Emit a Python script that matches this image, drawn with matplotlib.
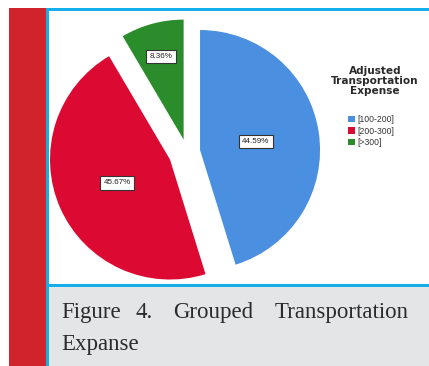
import matplotlib
matplotlib.use("Agg")
import matplotlib.pyplot as plt
from matplotlib.patches import Rectangle
import numpy as np

# Data
categories = ["[100-200]", "[200-300]", "[>300]"]
shares = [44.59, 45.67, 8.36]
colors = ["#4a8fe0", "#dc0a32", "#2a8c2a"]
explode = [0.11, 0.155, 0.107]
label_dist = [0.47, 0.48, 0.72]
legend_title = "Adjusted\nTransportation\nExpense"
caption_line1 = ["Figure", "4.", "Grouped", "Transportation"]
caption_line2 = "Expanse"

W, H = 429, 366
fig = plt.figure(figsize=(W / 100, H / 100), dpi=100)
fig.patch.set_facecolor("white")


def fx(px):
    return px / W


def fy(py):
    return 1 - py / H


def rect(x0, y0, x1, y1, color, z=0):
    fig.patches.append(Rectangle((fx(x0), fy(y1)), fx(x1) - fx(x0), fy(y0) - fy(y1),
                                 transform=fig.transFigure, facecolor=color,
                                 edgecolor="none", zorder=z))


# Page furniture: red side bar, blue rules, grey caption box
rect(9, 7.5, 45.5, 366, "#d0242c")
rect(45.5, 8, 48.7, 366, "#14aeea")
rect(45.5, 8, 429, 11, "#14aeea")
rect(48.7, 11, 429, 283.5, "white")
rect(48.7, 283.5, 429, 286.5, "#14aeea")
rect(48.7, 286.5, 429, 366, "#e4e5e7")

# Pie
ax = fig.add_axes([fx(37), fy(302), 300 / W, 300 / H])
ax.set_zorder(3)
ax.set_xlim(-1.25, 1.25)
ax.set_ylim(-1.25, 1.25)
ax.set_aspect("equal")
ax.axis("off")
ax.patch.set_alpha(0)

wedges, _ = ax.pie(shares, colors=colors, explode=explode, startangle=90,
                   counterclock=False, radius=1.0,
                   wedgeprops=dict(linewidth=0))

for w, val, d in zip(wedges, shares, label_dist):
    mid = np.deg2rad((w.theta1 + w.theta2) / 2)
    cx, cy = w.center
    ax.text(cx + d * np.cos(mid), cy + d * np.sin(mid), f"{val:.2f}%",
            ha="center", va="center", fontsize=5.8, color="#222222",
            family="Liberation Sans",
            bbox=dict(boxstyle="square,pad=0.4", facecolor="white",
                      edgecolor="#333333", linewidth=0.8))

# Legend
fig.text(fx(375), fy(66), legend_title, ha="center", va="top", fontsize=7.6,
         fontweight="bold", family="DejaVu Sans", linespacing=1.0,
         color="#2a2a2a")
leg = fig.legend(wedges, categories, loc="upper left",
                 bbox_to_anchor=(fx(348), fy(115)), frameon=False,
                 handlelength=0.8, handleheight=0.8,
                 handletextpad=0.3, labelspacing=0.3, borderpad=0,
                 borderaxespad=0, prop=dict(family="Liberation Sans", size=6.2))
for t in leg.get_texts():
    t.set_color("#333333")

# Caption
cap_kw = dict(fontsize=16.5, family="Liberation Serif", color="#2b2b2b",
              va="baseline")
fig.text(fx(61.5), fy(318), caption_line1[0], ha="left", **cap_kw)
fig.text(fx(135), fy(318), caption_line1[1], ha="left", **cap_kw)
fig.text(fx(173), fy(318), caption_line1[2], ha="left", **cap_kw)
fig.text(fx(408.5), fy(318), caption_line1[3], ha="right", **cap_kw)
fig.text(fx(61.5), fy(350), caption_line2, ha="left", **cap_kw)

fig.savefig("out.png", dpi=100, facecolor=fig.get_facecolor())
